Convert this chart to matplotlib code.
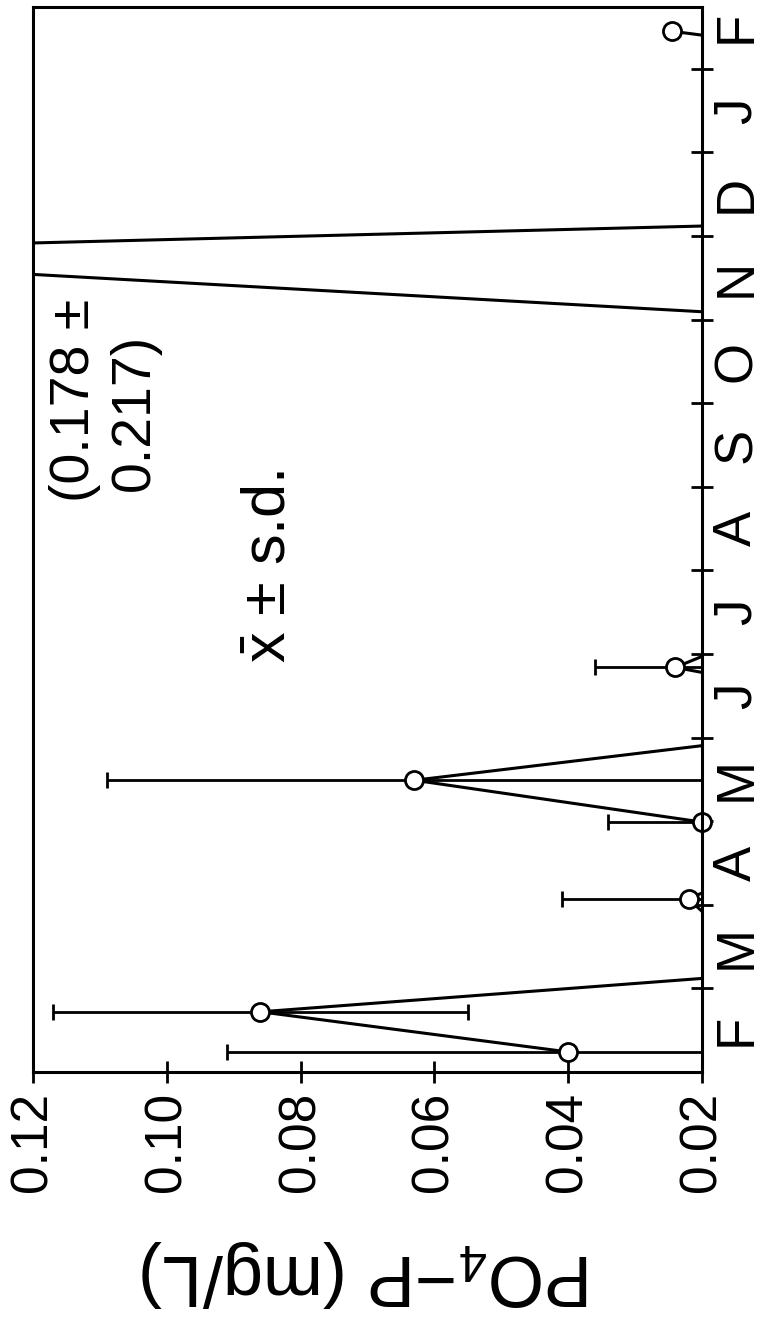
import numpy as np
import matplotlib
matplotlib.use("Agg")
import matplotlib.pyplot as plt

plt.rcParams['font.family'] = ['Liberation Sans', 'DejaVu Sans']
plt.rcParams['mathtext.fontset'] = 'custom'
plt.rcParams['mathtext.rm'] = 'Liberation Sans'
plt.rcParams['mathtext.it'] = 'Liberation Sans:italic'

# months from the start of February (0) ; values below 0.02 run off the scale
month_pos = [0.24, 0.72, 1.18, 2.07, 2.50, 2.99, 3.49, 4.00, 4.63, 4.84, 5.30,
             9.05, 9.80, 10.14, 12.30, 12.45]
po4_mean = [0.040, 0.086, 0.010, 0.022, 0.010, 0.020, 0.063, 0.010, 0.010, 0.024, 0.010,
            0.010, 0.178, 0.010, 0.010, 0.0245]
po4_sd = [0.051, 0.031, np.nan, 0.019, np.nan, 0.014, 0.046, np.nan, np.nan, 0.012, np.nan,
          np.nan, np.nan, np.nan, np.nan, np.nan]
peak_mean = 0.178
peak_sd = 0.217

month_labels = ['F', 'M', 'A', 'M', 'J', 'J', 'A', 'S', 'O', 'N', 'D', 'J', 'F']
value_ticks = [0.12, 0.10, 0.08, 0.06, 0.04, 0.02]

t = np.array(month_pos)
v = np.array(po4_mean)
sd = np.array(po4_sd)

fig = plt.figure(figsize=(7.70, 13.19), dpi=100)
ax = fig.add_axes([33/770, 1-1072/1319, (702-33)/770, (1072-7)/1319])

# the whole figure is turned on its side: value runs across, time runs up
ax.plot(v, t, color='black', lw=2.2, zorder=1.5)
has_sd = ~np.isnan(sd)
ax.errorbar(v[has_sd], t[has_sd], xerr=sd[has_sd], fmt='none', ecolor='black',
            elinewidth=2.0, capsize=5.5, capthick=2.0, zorder=1.4)
shown = v >= 0.02
ax.plot(v[shown], t[shown], 'o', ms=13, mfc='white', mec='black', mew=2.0,
        clip_on=False, zorder=2)

ax.set_xlim(0.12, 0.02)
ax.set_ylim(0, 12.74)

ax.set_xticks(value_ticks)
ax.set_xticklabels(['%.2f' % x for x in value_ticks], rotation=90, fontsize=37)
ax.tick_params(axis='x', direction='inout', length=16, width=2, pad=6)

ax.yaxis.tick_right()
ax.set_yticks(np.arange(1, 13))
ax.set_yticks(np.arange(0.5, 13), minor=True)
ax.set_yticklabels(month_labels, minor=True, rotation=90, va='center', fontsize=38)
ax.tick_params(axis='y', which='major', direction='inout', length=16, width=2,
               labelright=False, left=False)
ax.tick_params(axis='y', which='minor', length=0, pad=7, left=False)

for s in ax.spines.values():
    s.set_linewidth(2.2)

fig.text(367.5/770, 1-1273/1319, 'PO$_4$\u2212P (mg/L)', rotation=180,
         ha='center', va='center', fontsize=52)

ax.text(0.3528, 0.4751, r'$\bar{\mathrm{x}}$ ' + '\u00b1 s.d.', rotation=90,
        ha='center', va='center', fontsize=44, transform=ax.transAxes)
ax.text(0.0628, 0.631, '(%.3f \u00b1' % peak_mean, rotation=90,
        ha='center', va='center', fontsize=40, transform=ax.transAxes)
ax.text(0.1525, 0.619, '%.3f)' % peak_sd, rotation=90,
        ha='center', va='center', fontsize=40, transform=ax.transAxes)

fig.savefig('out.png', dpi=100)
